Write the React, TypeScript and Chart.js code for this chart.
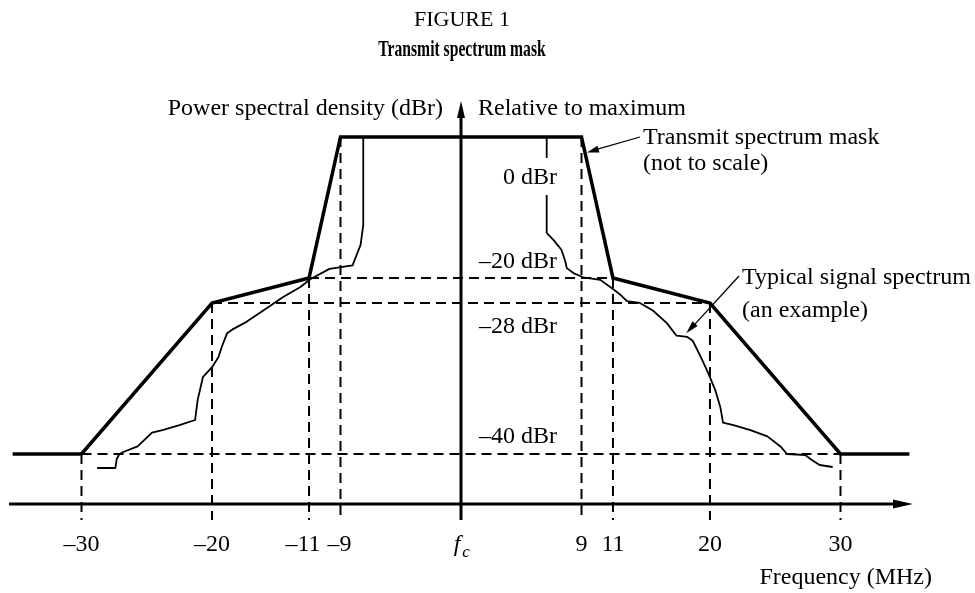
import React, { useEffect, useRef } from 'react';
import { Chart, registerables, LinearScale } from 'chart.js';

// ---------------- data ----------------
const maskFreq = [-35.7, -30, -20, -11, -9, 9, 11, 20, 30, 35.7];
const maskDbr = [-40, -40, -28, -20, 0, 0, -20, -28, -40, -40];

const signalFreq = [
  -28.8, -27.4, -27.3, -27.1, -26.7, -25.7, -24.6, -23.8, -22.5, -21.3,
  -21.1, -20.7, -20.0, -19.4, -19.1, -18.6, -18.1, -16.8, -14.9, -13.4,
  -11.8, -10.9, -9.7, -8.1, -7.5, -7.3, -7.3,
  6.4, 6.4, 6.9, 7.5, 7.8, 7.9, 8.4, 9.1, 10.2, 11.0,
  11.7, 12.3, 13.5, 14.7, 16.0, 16.9, 17.9, 18.4, 19.1, 19.8,
  20.4, 20.8, 21.0, 21.8, 23.1, 24.4, 25.4, 25.9, 27.3, 27.8,
  28.4, 29.4,
];
const signalDbr = [
  -42.8, -42.8, -41.0, -40.0, -39.8, -39.4, -38.3, -38.1, -37.7, -37.3,
  -35.7, -33.9, -33.1, -32.3, -31.5, -30.4, -30.1, -29.5, -28.4, -26.1,
  -22.9, -20.3, -18.7, -18.2, -15.3, -12.5, 0,
  0, -13.6, -14.6, -16.0, -17.7, -18.6, -19.3, -19.9, -20.6, -23.5,
  -25.4, -27.4, -28.0, -28.6, -29.6, -30.6, -30.7, -31.0, -32.2, -33.5,
  -34.9, -36.3, -37.5, -37.7, -38.1, -38.6, -39.4, -40.0, -40.2, -41.2,
  -42.2, -42.6,
];

const tickFreq = [-30, -20, -11, -9, 0, 9, 11, 20, 30];
const tickLabels = ['\u201330', '\u201320', '\u201311', '\u20139', 'fc', '9', '11', '20', '30'];
const levelDbr = [0, -20, -28, -40];
const levelLabels = ['0 dBr', '\u201320 dBr', '\u201328 dBr', '\u201340 dBr'];

// -------- "not to scale" axis definitions (value -> fraction of axis) --------
const X_MIN = -36, X_MAX = 36, Y_MIN = -50, Y_MAX = 6;
const X_SCALE = {
  breaks: [-36, -30, -20, -11, -9, 0, 9, 11, 20, 30, 36],
  pos: [0, 0.0802, 0.2246, 0.3319, 0.3667, 0.5, 0.6333, 0.6681, 0.7754, 0.9198, 1],
};
const Y_SCALE = {
  breaks: [-50, -40, -28, -20, 0, 6],
  pos: [0, 0.1241, 0.4988, 0.5608, 0.9107, 1],
};

function interp(v: number, xs: number[], ys: number[]) {
  const n = xs.length;
  let i = 0;
  if (v <= xs[0]) i = 0;
  else if (v >= xs[n - 1]) i = n - 2;
  else {
    while (i < n - 2 && v > xs[i + 1]) i++;
  }
  const t = (v - xs[i]) / (xs[i + 1] - xs[i]);
  return ys[i] + t * (ys[i + 1] - ys[i]);
}

class PiecewiseScale extends LinearScale {
  static id = 'piecewise';
  getPixelForValue(value: any) {
    if (value === null || value === undefined || isNaN(value)) return NaN;
    const m = (this as any).id === 'x' ? X_SCALE : Y_SCALE;
    return (this as any).getPixelForDecimal(interp(value, m.breaks, m.pos));
  }
  getValueForPixel(pixel: number) {
    const m = (this as any).id === 'x' ? X_SCALE : Y_SCALE;
    return interp((this as any).getDecimalForPixel(pixel), m.pos, m.breaks);
  }
}

Chart.register(...registerables, PiecewiseScale as any);

const FONT = "'Liberation Serif', 'Times New Roman', Times, serif";

function maskAt(f: number) {
  return interp(f, maskFreq, maskDbr);
}
function innerCorner(level: number) {
  let best = Infinity;
  maskFreq.forEach((f, i) => {
    if (maskDbr[i] === level && Math.abs(f) < best) best = Math.abs(f);
  });
  return best;
}

function seg(ctx: CanvasRenderingContext2D, x1: number, y1: number, x2: number, y2: number) {
  ctx.beginPath();
  ctx.moveTo(x1, y1);
  ctx.lineTo(x2, y2);
  ctx.stroke();
}
function head(ctx: CanvasRenderingContext2D, tx: number, ty: number, fx: number, fy: number, len: number, half: number) {
  const a = Math.atan2(ty - fy, tx - fx);
  const bx = tx - len * Math.cos(a), by = ty - len * Math.sin(a);
  ctx.beginPath();
  ctx.moveTo(tx, ty);
  ctx.lineTo(bx + half * Math.sin(a), by - half * Math.cos(a));
  ctx.lineTo(bx - half * Math.sin(a), by + half * Math.cos(a));
  ctx.closePath();
  ctx.fill();
}
function txt(ctx: CanvasRenderingContext2D, s: string, x: number, y: number, size: number,
  align: CanvasTextAlign = 'left', weight = 'normal', style = 'normal', sx = 1) {
  ctx.save();
  ctx.font = `${style} ${weight} ${size}px ${FONT}`;
  ctx.textAlign = align;
  ctx.textBaseline = 'alphabetic';
  ctx.fillStyle = '#000';
  ctx.translate(x, y);
  ctx.scale(sx, 1);
  ctx.fillText(s, 0, 0);
  ctx.restore();
}

const schematic = {
  id: 'schematic',
  beforeDatasetsDraw(chart: any) {
    const ctx = chart.ctx as CanvasRenderingContext2D;
    const xs = chart.scales.x, ys = chart.scales.y;
    const X = (v: number) => xs.getPixelForValue(v);
    const Y = (v: number) => ys.getPixelForValue(v);
    const axisY = Y(Y_MIN);
    ctx.save();
    ctx.strokeStyle = '#000';
    ctx.lineWidth = 2;
    ctx.setLineDash([10, 6]);
    tickFreq.forEach((f) => {
      if (f === 0) return;
      seg(ctx, X(f), Y(maskAt(f)), X(f), axisY + 16);
    });
    levelDbr.forEach((L) => {
      if (L === 0) return;
      const f = innerCorner(L);
      seg(ctx, X(-f), Y(L), X(f), Y(L));
    });
    ctx.restore();
  },
  afterDatasetsDraw(chart: any) {
    const ctx = chart.ctx as CanvasRenderingContext2D;
    const xs = chart.scales.x, ys = chart.scales.y;
    const X = (v: number) => xs.getPixelForValue(v);
    const Y = (v: number) => ys.getPixelForValue(v);
    const x0 = X(0);
    const axisY = Y(Y_MIN);
    const topY = Y(Y_MAX);
    ctx.save();
    ctx.strokeStyle = '#000';
    ctx.fillStyle = '#000';
    ctx.setLineDash([]);
    // axes
    ctx.lineWidth = 3;
    seg(ctx, xs.left, axisY, xs.right - 16, axisY);
    head(ctx, xs.right, axisY, xs.left, axisY, 20, 4.5);
    seg(ctx, x0, axisY + 16, x0, topY + 14);
    head(ctx, x0, topY, x0, axisY, 17, 4);

    // tick labels
    tickFreq.forEach((f, i) => {
      const lab = tickLabels[i];
      const px = X(f);
      if (lab === 'fc') {
        txt(ctx, 'f', px - 4, 551, 24, 'center', 'normal', 'italic');
        txt(ctx, 'c', px + 5, 557, 17, 'center', 'normal', 'italic');
      } else {
        const nudge = f === -11 ? -6 : f === -9 ? -1 : 0;
        txt(ctx, lab, px + nudge, 551, 24, 'center');
      }
    });
    txt(ctx, 'Frequency (MHz)', 932, 584, 24, 'right');

    // level labels
    const lvlOffset: Record<string, number> = { '0': 47, '-20': -10, '-28': 30, '-40': -11 };
    levelDbr.forEach((L, i) => {
      const by = Y(L) + lvlOffset[String(L)];
      const rx = x0 + 96;
      if (L === 0) {
        ctx.save();
        ctx.font = `24px ${FONT}`;
        const w = ctx.measureText(levelLabels[i]).width;
        ctx.fillStyle = '#fff';
        ctx.fillRect(rx - w - 3, by - 26, w + 6, 37);
        ctx.restore();
      }
      txt(ctx, levelLabels[i], rx, by, 24, 'right');
    });

    // axis titles
    txt(ctx, 'Power spectral density (dBr)', x0 - 18, 115, 24, 'right');
    txt(ctx, 'Relative to maximum', x0 + 17, 115, 24, 'left');

    // figure titles
    txt(ctx, 'FIGURE 1', x0 + 1, 26, 22, 'center');
    txt(ctx, 'Transmit spectrum mask', x0 + 1, 56, 23, 'center', 'bold', 'normal', 0.68);

    // annotation: mask
    ctx.lineWidth = 1.3;
    const t = 0.11;
    const mx = X(9) + t * (X(11) - X(9)) + 2;
    const my = Y(0) + t * (Y(-20) - Y(0));
    seg(ctx, 640, 137, mx + 8, my - 2.5);
    head(ctx, mx, my, 640, 137, 12, 3.5);
    txt(ctx, 'Transmit spectrum mask', 643, 144, 24, 'left');
    txt(ctx, '(not to scale)', 643, 170, 24, 'left');

    // annotation: signal
    const sx = X(17.8), sy = Y(-30.4);
    seg(ctx, 739, 276, sx + 6, sy - 6);
    head(ctx, sx, sy, 739, 276, 13, 3.5);
    txt(ctx, 'Typical signal spectrum', 742, 284, 24, 'left');
    txt(ctx, '(an example)', 742, 317, 24, 'left');
    ctx.restore();
  },
};

export default function App() {
  const ref = useRef<HTMLCanvasElement>(null);
  useEffect(() => {
    if (!ref.current) return;
    const chart = new Chart(ref.current, {
      type: 'line',
      data: {
        datasets: [
          {
            label: 'Transmit spectrum mask',
            data: maskFreq.map((f, i) => ({ x: f, y: maskDbr[i] })),
            borderColor: '#000',
            borderWidth: 3.5,
            pointRadius: 0,
            tension: 0,
            fill: false,
            borderJoinStyle: 'miter',
          },
          {
            label: 'Typical signal spectrum',
            data: signalFreq.map((f, i) => ({ x: f, y: signalDbr[i] })),
            borderColor: '#000',
            borderWidth: 1.8,
            pointRadius: 0,
            tension: 0,
            borderJoinStyle: 'round',
            fill: false,
          },
        ],
      },
      options: {
        responsive: false,
        animation: false,
        events: [],
        layout: { padding: { left: 9, right: 62, top: 101, bottom: 89 } },
        scales: {
          x: { type: 'piecewise' as any, min: X_MIN, max: X_MAX, display: false },
          y: { type: 'piecewise' as any, min: Y_MIN, max: Y_MAX, display: false },
        },
        plugins: {
          legend: { display: false },
          tooltip: { enabled: false },
          title: { display: false },
        },
      } as any,
      plugins: [schematic],
    });
    return () => chart.destroy();
  }, []);
  return (
    <div style={{ position: 'fixed', left: 0, top: 0, width: 975, height: 593, background: '#fff' }}>
      <canvas ref={ref} width={975} height={593} style={{ display: 'block', width: 975, height: 593 }} />
    </div>
  );
}
